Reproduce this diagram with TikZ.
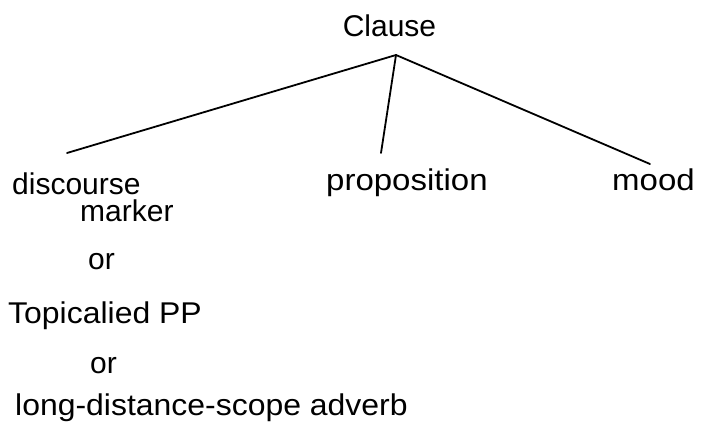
\documentclass[tikz,border=0pt]{standalone}
\usepackage{fontspec}
\setmainfont{Liberation Sans}
\newfontfamily\widesans{Liberation Sans}[FakeStretch=1.1]
\newfontfamily\midsans{Liberation Sans}[FakeStretch=1.065]
\begin{document}
\begin{tikzpicture}[x=1pt,y=-1pt,
  lbl/.style={anchor=base west,inner sep=0pt,font=\fontsize{30}{36}\selectfont},
  widelbl/.style={lbl,font=\widesans\fontsize{30}{36}\selectfont},
  midlbl/.style={lbl,font=\midsans\fontsize{30}{36}\selectfont},
  branch/.style={line width=1.8pt,line cap=round}]
\useasboundingbox (0,0) rectangle (702,427);
% root label and branching point
\node[lbl,anchor=base] (clause) at (389.5,37) {Clause};
\coordinate (apex) at (396,55);
% daughters
\node[lbl] (disc) at (12,195) {discourse};
\node[lbl] (marker) at (80,222) {marker};
\node[lbl] (or1) at (88,270) {or};
\node[midlbl] (topic) at (8,324) {Topicalied PP};
\node[lbl] (or2) at (90,374) {or};
\node[midlbl] (lds) at (15,416) {long-distance-scope adverb};
\node[widelbl] (prop) at (326,191) {proposition};
\node[widelbl] (mood) at (612,191) {mood};
% branch ends
\coordinate (lend) at (67,153);
\coordinate (mend) at (381,153);
\coordinate (rend) at (650,164);
\draw[branch] (apex) -- (lend);
\draw[branch] (apex) -- (mend);
\draw[branch] (apex) -- (rend);
\end{tikzpicture}
\end{document}
